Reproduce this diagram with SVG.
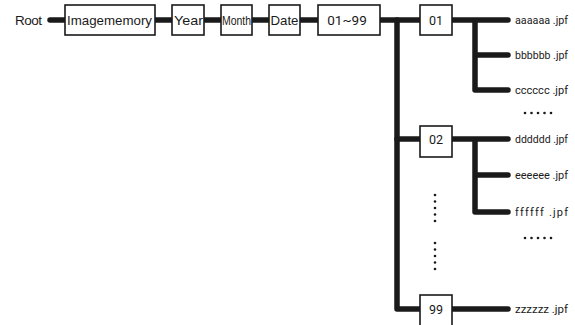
<svg xmlns="http://www.w3.org/2000/svg" width="575" height="325" viewBox="0 0 575 325">
<style>
.ln{fill:none;stroke:#1a1a1a;stroke-width:5.5;stroke-linecap:round;stroke-linejoin:round}
.bx{fill:#fff;stroke:#1a1a1a;stroke-width:1.6}
.h{font-family:"Liberation Sans",Arial,sans-serif;font-size:13.5px;fill:#1a1a1a}
.r{font-family:Roboto,"Liberation Sans",sans-serif;font-size:12.5px;fill:#1a1a1a;text-anchor:middle}
.f{font-family:Roboto,"Liberation Sans",sans-serif;font-size:11px;fill:#1a1a1a}
.d{fill:#1a1a1a}
</style>
<g id="connectors">
<path class="ln" d="M50,20 H420"/>
<path class="ln" d="M397,20 V309 H420"/>
<path class="ln" d="M397,139 H420"/>
<path class="ln" d="M452,20 H508 M475,20 V90 H508 M475,55 H508"/>
<path class="ln" d="M452,139 H508 M475,139 V212 H508 M475,175 H508"/>
<path class="ln" d="M452,309 H508"/>
</g>
<text class="h" x="15" y="25" textLength="27">Root</text>
<g id="imagememory"><rect class="bx" x="65" y="5" width="90" height="30"/><text class="h" x="67" y="25" textLength="85" lengthAdjust="spacingAndGlyphs">Imagememory</text></g>
<g id="year"><rect class="bx" x="172" y="5" width="32" height="30"/><text class="h" x="174" y="25" textLength="29" lengthAdjust="spacingAndGlyphs">Year</text></g>
<g id="month"><rect class="bx" x="221" y="5" width="31" height="30"/><text class="h" x="222" y="25" textLength="29" lengthAdjust="spacingAndGlyphs" style="font-size:12.5px">Month</text></g>
<g id="date"><rect class="bx" x="269" y="5" width="31" height="30"/><text class="h" x="270.5" y="25" textLength="28" lengthAdjust="spacingAndGlyphs">Date</text></g>
<g id="range"><rect class="bx" x="318" y="5" width="62" height="30"/><text class="r" x="347" y="25" style="font-size:13.5px">01~99</text></g>
<g id="f01"><rect class="bx" x="420" y="5" width="32" height="30"/><text class="r" x="436" y="25">01</text></g>
<g id="f02"><rect class="bx" x="420" y="126" width="32" height="31"/><text class="r" x="436" y="144">02</text></g>
<g id="f99"><rect class="bx" x="420" y="295" width="32" height="34"/><text class="r" x="436" y="314">99</text></g>
<g id="files">
<text class="f" x="515" y="24" textLength="53" lengthAdjust="spacingAndGlyphs">aaaaaa .jpf</text>
<text class="f" x="515" y="59" textLength="53" lengthAdjust="spacingAndGlyphs">bbbbbb .jpf</text>
<text class="f" x="515" y="94" textLength="53" lengthAdjust="spacingAndGlyphs">cccccc .jpf</text>
<text class="f" x="515" y="143" textLength="53" lengthAdjust="spacingAndGlyphs">dddddd .jpf</text>
<text class="f" x="515" y="179" textLength="53" lengthAdjust="spacingAndGlyphs">eeeeee .jpf</text>
<text class="f" x="515" y="216" textLength="53" lengthAdjust="spacing">ffffff .jpf</text>
<text class="f" x="515" y="313" textLength="53" lengthAdjust="spacingAndGlyphs">zzzzzz .jpf</text>
</g>
<g id="dots" class="d">
<circle cx="525" cy="113" r="1.3"/><circle cx="531.5" cy="113" r="1.3"/><circle cx="538" cy="113" r="1.3"/><circle cx="544.5" cy="113" r="1.3"/><circle cx="551" cy="113" r="1.3"/>
<circle cx="525" cy="238" r="1.3"/><circle cx="531.5" cy="238" r="1.3"/><circle cx="538" cy="238" r="1.3"/><circle cx="544.5" cy="238" r="1.3"/><circle cx="551" cy="238" r="1.3"/>
<circle cx="435" cy="195" r="1.3"/><circle cx="435" cy="201.5" r="1.3"/><circle cx="435" cy="208" r="1.3"/><circle cx="435" cy="214.5" r="1.3"/><circle cx="435" cy="221" r="1.3"/>
<circle cx="435" cy="243" r="1.3"/><circle cx="435" cy="249.5" r="1.3"/><circle cx="435" cy="256" r="1.3"/><circle cx="435" cy="262.5" r="1.3"/><circle cx="435" cy="269" r="1.3"/>
</g>
</svg>
